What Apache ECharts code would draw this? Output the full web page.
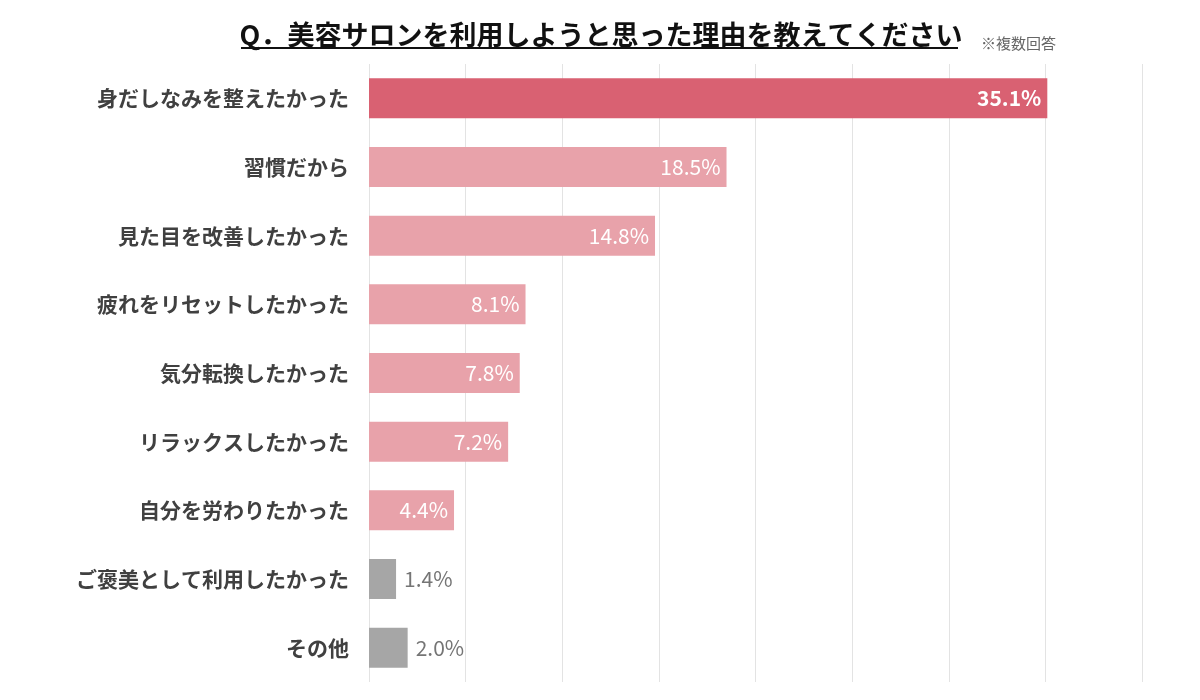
<html>
  <head>
    <meta charset="utf-8" />
    <title>ECharts</title>
    <script src="https://cdn.jsdelivr.net/npm/echarts@6/dist/echarts.min.js"></script>
  </head>
  <body style="margin:0">
    <div id="main" style="width:1200px;height:700px;"></div>
    <script type="text/javascript">
      // 項目（上から順）
      var categories = ['身だしなみを整えたかった', '習慣だから', '見た目を改善したかった', '疲れをリセットしたかった',
        '気分転換したかった', 'リラックスしたかった', '自分を労わりたかった', 'ご褒美として利用したかった', 'その他'];
      var values = [35.1, 18.5, 14.8, 8.1, 7.8, 7.2, 4.4, 1.4, 2.0];
      var barColors = ['#d96172', '#e8a2aa', '#e8a2aa', '#e8a2aa', '#e8a2aa', '#e8a2aa', '#e8a2aa', '#a6a6a6', '#a6a6a6'];
      var xTicks = [0, 5, 10, 15, 20, 25, 30, 35, 40];

      var font = '"Noto Sans CJK JP", "Noto Sans", sans-serif';

      var data = values.map(function (v, i) {
        var gray = barColors[i] === '#a6a6a6';
        return {
          value: v,
          itemStyle: { color: barColors[i] },
          label: gray ? {
            position: 'right', color: '#757575', fontWeight: 'normal', distance: 8
          } : {
            position: 'insideRight', color: '#fff', fontWeight: i === 0 ? 'bold' : 'normal', distance: 6
          }
        };
      });

      var myChart = echarts.init(document.getElementById('main'));
      var option = {
        textStyle: { fontFamily: font },
        title: [{
          text: 'Q．美容サロンを利用しようと思った理由を教えてください',
          left: 596,
          textAlign: 'center',
          top: 16,
          textStyle: { fontSize: 27, fontWeight: 'bold', color: '#111', fontFamily: font }
        }, {
          text: '※複数回答',
          left: 976,
          top: 31,
          textStyle: { fontSize: 15, fontWeight: 'normal', color: '#666', fontFamily: font }
        }],
        graphic: [{
          type: 'line',
          shape: { x1: 241, y1: 48, x2: 958, y2: 48 },
          style: { stroke: '#111', lineWidth: 2 }
        }],
        grid: { left: 369, right: 58, top: 64, bottom: 18, containLabel: false },
        xAxis: {
          type: 'value',
          min: xTicks[0],
          max: xTicks[xTicks.length - 1],
          interval: 5,
          axisLine: { show: false },
          axisTick: { show: false },
          axisLabel: { show: false },
          splitLine: { lineStyle: { color: '#e3e3e3', width: 1 } }
        },
        yAxis: {
          type: 'category',
          data: categories,
          inverse: true,
          axisLine: { show: false },
          axisTick: { show: false },
          axisLabel: { color: '#404040', fontSize: 21, fontWeight: 'bold', margin: 20, fontFamily: font }
        },
        series: [{
          type: 'bar',
          data: data,
          barWidth: 40,
          label: {
            show: true,
            fontSize: 21,
            fontFamily: font,
            formatter: function (p) { return p.value.toFixed(1) + '%'; }
          }
        }]
      };
      myChart.setOption(option);
    </script>
  </body>
</html>
